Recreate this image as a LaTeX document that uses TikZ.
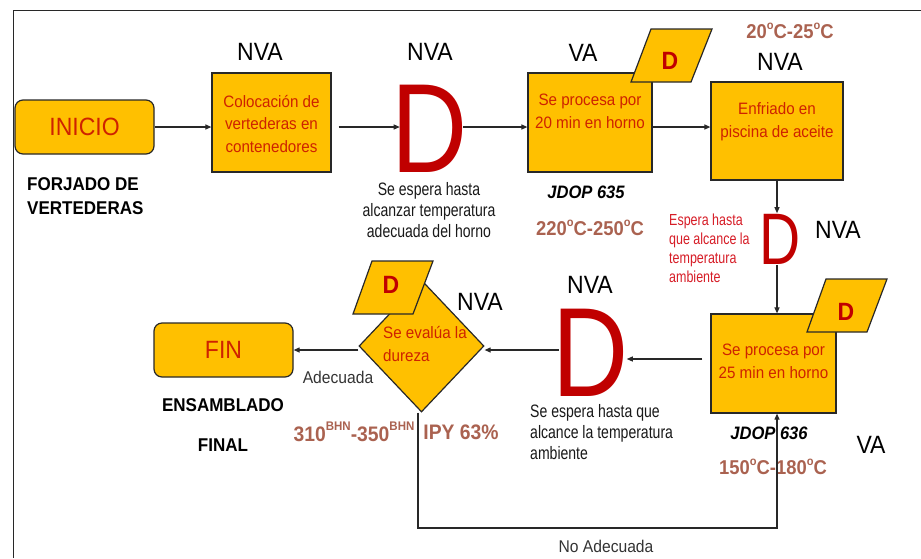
\documentclass[tikz,border=0pt]{standalone}
\usepackage{fontspec}
\usepackage{graphicx}
\setmainfont{Liberation Sans}[FakeStretch=0.92]
\newfontfamily\narrowfont{Liberation Sans}[FakeStretch=0.78]
\newfontfamily\plainfont{Liberation Sans}
\usetikzlibrary{arrows.meta,shapes.geometric,calc}

\definecolor{boxfill}{RGB}{255,192,0}
\definecolor{boxtxt}{RGB}{206,34,0}
\definecolor{dred}{RGB}{192,0,0}
\definecolor{smallred}{RGB}{214,28,38}
\definecolor{tempbrown}{RGB}{170,98,80}
\definecolor{edge}{RGB}{40,40,40}

% raised small "o" used for degrees
\newcommand{\gsup}{\raisebox{0.45em}{\fontsize{12}{12}\selectfont o}}
\newcommand{\bhn}{\raisebox{0.5em}{\fontsize{12.5}{12.5}\selectfont BHN}}

\tikzset{
  arr/.style={-{Triangle[length=6pt,width=5pt]}, line width=1.1pt, draw=edge},
  procbox/.style={draw=edge, line width=1.2pt, fill=boxfill, inner sep=0},
  termbox/.style={procbox, rounded corners=8pt, minimum width=139pt, minimum height=54pt,
                  text=boxtxt, font=\fontsize{25}{25}\selectfont},
  boxtext/.style={text=boxtxt, font=\fontsize{16.5}{22.5}\selectfont, align=center, inner sep=0},
  tag/.style={font=\fontsize{25}{25}\selectfont, inner sep=0},
  boldlabel/.style={font=\fontsize{18.5}{24}\selectfont\bfseries, inner sep=0},
  temp/.style={text=tempbrown, font=\fontsize{20}{20}\selectfont\bfseries, inner sep=0},
  caption/.style={text=black!90, font=\narrowfont\fontsize{18}{21}\selectfont, inner sep=0},
  bigD/.style={text=dred, inner sep=0},
  dflag/.style={draw=edge, line width=1.2pt, fill=boxfill},
  dflagtext/.style={text=dred, font=\fontsize{25}{25}\selectfont\bfseries, inner sep=0}
}

\begin{document}
\begin{tikzpicture}[x=1pt,y=-1pt]
\useasboundingbox (0,0) rectangle (921,558);

% frame
\draw[line width=1pt, draw=edge] (13,558) -- (13,10) -- (921,10);

% start
\node[termbox] (inicio) at (84.5,127) {INICIO};
\node[boldlabel, anchor=west, align=left] (forjado) at (27,196) {FORJADO DE\\VERTEDERAS};

% step 1
\node[procbox, minimum width=119pt, minimum height=99pt] (box1) at (271.5,122.5) {};
\node[boxtext] (box1t) at (271.5,123.5) {Colocación de\\vertederas en\\contenedores};
\node[tag] (nva1) at (260,52) {NVA};

% wait 1
\node[bigD] (d1) at (430,128.5) {\plainfont\fontsize{127}{127}\selectfont\scalebox{0.83}[1]{D}};
\node[tag] (nva2) at (430,52) {NVA};
\node[caption, align=center] (d1c) at (429,210) {Se espera hasta\\alcanzar temperatura\\adecuada del horno};

% step 2: oven 20 min
\node[procbox, minimum width=124pt, minimum height=99pt] (box2) at (590,122.5) {};
\node[boxtext] (box2t) at (590,111.5) {Se procesa por\\20 min en horno};
\filldraw[dflag] (651,29) -- (712,29) -- (691,82) -- (631,82) -- cycle;
\node[dflagtext] (flag1) at (670,61) {D};
\node[tag] (va1) at (583,53) {VA};
\node[boldlabel, font=\fontsize{18}{18}\selectfont\bfseries\itshape] (jdop635) at (586,192) {JDOP 635};
\node[temp] (t635) at (590,228) {220\gsup C-250\gsup C};

% step 3: oil bath
\node[procbox, minimum width=132pt, minimum height=98pt] (box3) at (777,131) {};
\node[boxtext] (box3t) at (777,121.5) {Enfriado en\\piscina de aceite};
\node[tag] (nva3) at (780,62) {NVA};
\node[temp] (tbath) at (790,31) {20\gsup C-25\gsup C};

% wait 2
\node[bigD] (d2) at (780,239.5) {\plainfont\fontsize{73}{73}\selectfont\scalebox{0.78}[1]{D}};
\node[tag] (nva4) at (838,230) {NVA};
\node[text=smallred, font=\narrowfont\fontsize{16}{19}\selectfont, align=left, anchor=north west, inner sep=0]
  (d2c) at (669,214) {Espera hasta\\que alcance la\\temperatura\\ambiente};

% step 4: oven 25 min
\node[procbox, minimum width=125pt, minimum height=99pt] (box4) at (773.5,363.5) {};
\node[boxtext] (box4t) at (773.5,361.5) {Se procesa por\\25 min en horno};
\filldraw[dflag] (826,279) -- (887,279) -- (867,332) -- (807,332) -- cycle;
\node[dflagtext] (flag2) at (846,312) {D};
\node[boldlabel, font=\fontsize{18}{18}\selectfont\bfseries\itshape] (jdop636) at (769,433) {JDOP 636};
\node[temp] (t636) at (773,467) {150\gsup C-180\gsup C};
\node[tag] (va2) at (871,445) {VA};

% wait 3
\node[bigD] (d3) at (590.5,353) {\plainfont\fontsize{127}{127}\selectfont\scalebox{0.83}[1]{D}};
\node[tag] (nva5) at (590,285) {NVA};
\node[caption, align=left, anchor=north west] (d3c) at (530,404) {Se espera hasta que\\alcance la temperatura\\ambiente};

% hardness check
\node[procbox, shape=diamond, minimum width=125pt, minimum height=132pt] (dia) at (421.5,346) {};
\filldraw[dflag] (372,261) -- (433,261) -- (413,314) -- (353,314) -- cycle;
\node[dflagtext] (flag3) at (391,285) {D};
\node[text=boxtxt, font=\fontsize{16.5}{22.5}\selectfont, align=left, anchor=west, inner sep=0]
  (diat) at (383,344) {Se evalúa la\\dureza};
\node[tag] (nva6) at (480,302) {NVA};
\node[temp, font=\fontsize{21}{21}\selectfont\bfseries] (hard) at (354,432) {310\bhn-350\bhn};
\node[temp, font=\fontsize{21}{21}\selectfont\bfseries] (ipy) at (461,432) {IPY 63\%};

% end
\node[termbox] (fin) at (223.5,350) {FIN};
\node[boldlabel] (ens) at (223,405) {ENSAMBLADO};
\node[boldlabel] (final) at (223,445) {FINAL};
\node[text=black!80, font=\fontsize{17}{17}\selectfont, inner sep=0] (adec) at (338,377) {Adecuada};
\node[text=black!80, font=\fontsize{17}{17}\selectfont, inner sep=0] (noadec) at (606,546) {No Adecuada};

% connectors
\draw[arr] (inicio.east) -- (inicio.east -| box1.west);
\draw[arr] ([xshift=7pt]box1.east |- inicio.east) -- ([xshift=8pt]d1.west |- inicio.east);
\draw[arr] ([xshift=-5pt]d1.east |- inicio.east) -- (box2.west |- inicio.east);
\draw[arr] (box2.east |- inicio.east) -- (box3.west |- inicio.east);
\draw[arr] (box3.south) -- ([yshift=1pt]box3.south |- d2.north);
\draw[arr] (box3.south |- d2.south) -- (box3.south |- box4.north);
\draw[arr] ([xshift=-8pt]box4.west |- 0,359) -- ([xshift=-2pt]d3.east |- 0,359);
\draw[arr] ([xshift=7pt]d3.west |- 0,350) -- (dia.east |- 0,350);
\draw[arr] (dia.west |- 0,350) -- (fin.east |- 0,350);
\coordinate (loopL) at (418,528);
\coordinate (loopR) at (777,528);
\draw[arr] ([xshift=-3.5pt]dia.south) -- (loopL) -- (loopR) -- (box4.south -| loopR);

\end{tikzpicture}
\end{document}
